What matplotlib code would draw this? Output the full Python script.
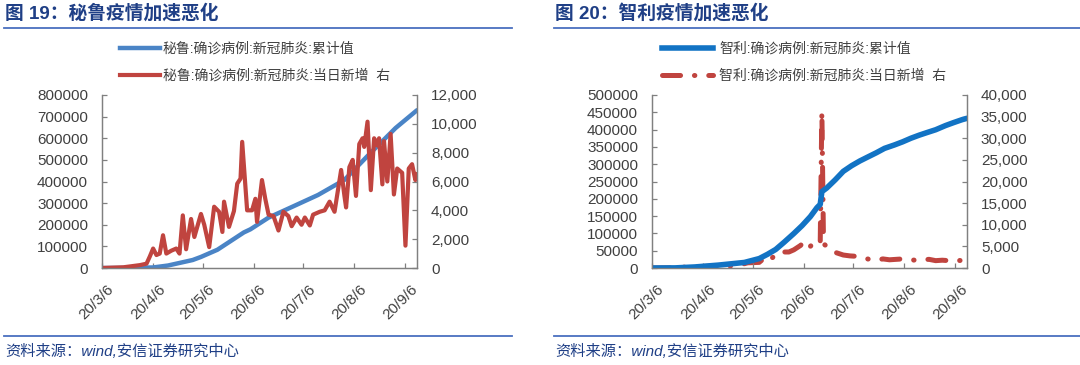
import numpy as np
import pandas as pd
import matplotlib
matplotlib.use("Agg")
import matplotlib.pyplot as plt
from matplotlib.lines import Line2D
from matplotlib.ticker import FuncFormatter
from matplotlib.transforms import ScaledTranslation

plt.rcParams['font.family'] = ['Liberation Sans', 'Noto Sans CJK SC', 'DejaVu Sans']
plt.rcParams['lines.scale_dashes'] = False

# ---- data ----
tick_dates = ["2020-03-06", "2020-04-06", "2020-05-06", "2020-06-06",
              "2020-07-06", "2020-08-06", "2020-09-06"]
tick_labels = ["20/3/6", "20/4/6", "20/5/6", "20/6/6", "20/7/6", "20/8/6", "20/9/6"]

peru_cum_dates = ["2020-03-06", "2020-03-20", "2020-04-06", "2020-04-15", "2020-04-30",
                  "2020-05-05", "2020-05-15", "2020-05-31", "2020-06-04", "2020-06-15",
                  "2020-06-30", "2020-07-15", "2020-07-31", "2020-08-15", "2020-08-31",
                  "2020-09-13"]
peru_cum = [0, 234, 2561, 11475, 36976, 51189, 84495, 164476, 178914, 232992,
            285213, 337724, 407492, 525803, 647166, 729619]

peru_new_dates = ["2020-03-06", "2020-03-19", "2020-03-29", "2020-04-02", "2020-04-04",
                  "2020-04-06", "2020-04-08", "2020-04-10", "2020-04-12", "2020-04-14",
                  "2020-04-17", "2020-04-20", "2020-04-22", "2020-04-24", "2020-04-26",
                  "2020-04-29", "2020-05-01", "2020-05-05", "2020-05-07", "2020-05-10",
                  "2020-05-13", "2020-05-16", "2020-05-18", "2020-05-19", "2020-05-22",
                  "2020-05-25", "2020-05-27", "2020-05-29", "2020-05-30", "2020-06-02",
                  "2020-06-05", "2020-06-07", "2020-06-08", "2020-06-11", "2020-06-13",
                  "2020-06-15", "2020-06-18", "2020-06-21", "2020-06-24", "2020-06-27",
                  "2020-06-29", "2020-07-02", "2020-07-05", "2020-07-07", "2020-07-10",
                  "2020-07-12", "2020-07-16", "2020-07-19", "2020-07-22", "2020-07-25",
                  "2020-07-29", "2020-07-31", "2020-08-01", "2020-08-03", "2020-08-05",
                  "2020-08-07", "2020-08-09", "2020-08-11", "2020-08-12", "2020-08-14",
                  "2020-08-16", "2020-08-18", "2020-08-20", "2020-08-21", "2020-08-23",
                  "2020-08-24", "2020-08-26", "2020-08-28", "2020-08-30", "2020-09-01",
                  "2020-09-04", "2020-09-06", "2020-09-08", "2020-09-10", "2020-09-12",
                  "2020-09-13"]
peru_new = [0, 50, 200, 300, 800, 1350, 900, 1000, 2270, 1000,
            1200, 1350, 1000, 3650, 1300, 3400, 2150, 3750, 3000, 1450,
            4250, 3900, 2500, 4600, 2850, 3950, 5850, 6200, 8750, 4000,
            4000, 4800, 3200, 6100, 4800, 3700, 3600, 2600, 3900, 3600,
            2900, 3500, 3000, 3500, 2950, 3700, 3900, 4000, 4600, 3900,
            6800, 5000, 4200, 7000, 7500, 5000, 8600, 9000, 8400, 10150,
            5400, 9000, 8500, 9000, 5800, 8800, 6000, 9300, 5100, 6900,
            6600, 1550, 6900, 7200, 6100, 6500]

chile_cum_dates = ["2020-03-06", "2020-03-20", "2020-04-01", "2020-04-15", "2020-05-01",
                   "2020-05-10", "2020-05-15", "2020-05-20", "2020-05-25", "2020-05-31",
                   "2020-06-05", "2020-06-10", "2020-06-14", "2020-06-16", "2020-06-17",
                   "2020-06-20", "2020-06-25", "2020-06-30", "2020-07-05", "2020-07-10",
                   "2020-07-15", "2020-07-20", "2020-07-25", "2020-07-31", "2020-08-05",
                   "2020-08-10", "2020-08-15", "2020-08-20", "2020-08-25", "2020-08-31",
                   "2020-09-05", "2020-09-10", "2020-09-13"]
chile_cum = [0, 342, 3031, 8273, 16023, 27219, 39542, 53617, 73997, 99688,
             122499, 148456, 174293, 184000, 220628, 231393, 254416, 279393, 295532, 309274,
             321205, 333029, 345790, 355667, 364723, 375044, 383902, 391849, 399568, 411726,
             420434, 428669, 432666]

chile_new_dates = ["2020-03-06", "2020-03-15", "2020-03-22", "2020-03-29", "2020-04-05",
                   "2020-04-12", "2020-04-19", "2020-04-26", "2020-05-03", "2020-05-10",
                   "2020-05-14", "2020-05-17", "2020-05-21", "2020-05-24", "2020-05-28",
                   "2020-05-31", "2020-06-04", "2020-06-07", "2020-06-10", "2020-06-13",
                   "2020-06-16", "2020-06-17", "2020-06-18", "2020-06-20", "2020-06-23",
                   "2020-06-26", "2020-06-30", "2020-07-04", "2020-07-08", "2020-07-12",
                   "2020-07-16", "2020-07-20", "2020-07-24", "2020-07-28", "2020-08-01",
                   "2020-08-05", "2020-08-09", "2020-08-13", "2020-08-17", "2020-08-21",
                   "2020-08-25", "2020-08-29", "2020-09-02", "2020-09-06", "2020-09-10",
                   "2020-09-13"]
chile_new = [0, 20, 100, 300, 350, 420, 450, 480, 1200, 1300,
             2600, 2000, 3500, 3700, 3700, 4200, 5200, 6300, 5000, 6200,
             5800, 36179, 5600, 5000, 4000, 3500, 3000, 2800, 2700, 2300,
             2000, 1800, 2100, 1900, 2000, 2100, 1900, 1800, 1900, 2000,
             1700, 1800, 1700, 1600, 1800, 1700]

TITLE_C = "#1f3f86"
RULE_C = "#4a6fbf"
TEXT_C = "#404040"
AX_C = "#808080"
W, H = 1080.0, 365.0

fig = plt.figure(figsize=(10.8, 3.65), dpi=100)


def panel(x0, title, cum_dates, cum, new_dates, new, ymax_l, step_l, ymax_r, step_r,
          blue, blue_lw, red, red_lw, red_style, labels, leg_x, handle_len, text_pad,
          blue_on_top):
    ax = fig.add_axes([(x0 + 102) / W, (H - 268) / H, 315 / W, 173 / H])
    ax2 = ax.twinx()
    ax.plot(pd.to_datetime(cum_dates), cum, color=blue, lw=blue_lw, solid_capstyle='round')
    ax2.plot(pd.to_datetime(new_dates), new, color=red, lw=red_lw,
             linestyle=red_style, dash_capstyle='round', solid_joinstyle='round')
    if blue_on_top:
        ax.set_zorder(ax2.get_zorder() + 1)
        ax.patch.set_visible(False)

    ax.set_xlim(pd.Timestamp("2020-03-06"), pd.Timestamp("2020-09-13"))
    ax.set_ylim(0, ymax_l)
    ax2.set_ylim(0, ymax_r)
    ax.set_yticks(np.arange(0, ymax_l + 1, step_l))
    ax2.set_yticks(np.arange(0, ymax_r + 1, step_r))
    ax2.yaxis.set_major_formatter(FuncFormatter(lambda v, p: f"{int(v):,}"))
    ax.set_xticks(pd.to_datetime(tick_dates))
    ax.set_xticklabels(tick_labels, rotation=45, ha='right', va='top',
                       rotation_mode='anchor')
    for a in (ax, ax2):
        a.spines['top'].set_visible(False)
        for s in ('left', 'right', 'bottom'):
            a.spines[s].set_color(AX_C)
            a.spines[s].set_linewidth(0.9)
        a.tick_params(direction='in', length=3.5, width=0.9, color=AX_C,
                      labelsize=11, labelcolor=TEXT_C, pad=10)
    ax.tick_params(axis='x', pad=10)
    shift = ScaledTranslation(5 / 100, 0, fig.dpi_scale_trans)
    for lab in ax.get_xticklabels():
        lab.set_transform(lab.get_transform() + shift)

    handles = [Line2D([], [], color=blue, lw=blue_lw),
               Line2D([], [], color=red, lw=red_lw, linestyle=red_style,
                      dash_capstyle='round')]
    fig.legend(handles, labels, loc='upper left',
               bbox_to_anchor=(leg_x / W, 1 - 42 / H), frameon=False,
               fontsize=10, labelcolor=TEXT_C, handlelength=handle_len,
               handletextpad=text_pad, labelspacing=0.9, borderpad=0, borderaxespad=0)

    # title, rules and source line
    fig.text((x0 + 5) / W, 1 - 13 / H, title, fontsize=13.5, fontweight='bold',
             color=TITLE_C, va='center', ha='left')
    x_end = 512 if x0 == 0 else 1080
    for yy in (28, 336):
        fig.add_artist(Line2D([(x0 + 4) / W, x_end / W], [1 - yy / H] * 2,
                              color=RULE_C, lw=1.3))
    fig.text((x0 + 5) / W, 1 - 351 / H, "资料来源：wind,安信证券研究中心", fontsize=11,
             color=TITLE_C, va='center', ha='left', style='italic')


panel(0, "图 19：秘鲁疫情加速恶化", peru_cum_dates, peru_cum, peru_new_dates, peru_new,
      800000, 100000, 12000, 2000, "#4a84c6", 3.2, "#c0443f", 3.0, '-',
      ["秘鲁:确诊病例:新冠肺炎:累计值", "秘鲁:确诊病例:新冠肺炎:当日新增  右"],
      120, 2.9, 0.2, False)
panel(550, "图 20：智利疫情加速恶化", chile_cum_dates, chile_cum, chile_new_dates, chile_new,
      500000, 50000, 40000, 5000, "#1273c4", 4.0, "#c0443f", 3.6, (0, (13, 10, 0.3, 10)),
      ["智利:确诊病例:新冠肺炎:累计值", "智利:确诊病例:新冠肺炎:当日新增  右"],
      662, 3.7, 0.4, True)

fig.savefig("out.png", dpi=100)
